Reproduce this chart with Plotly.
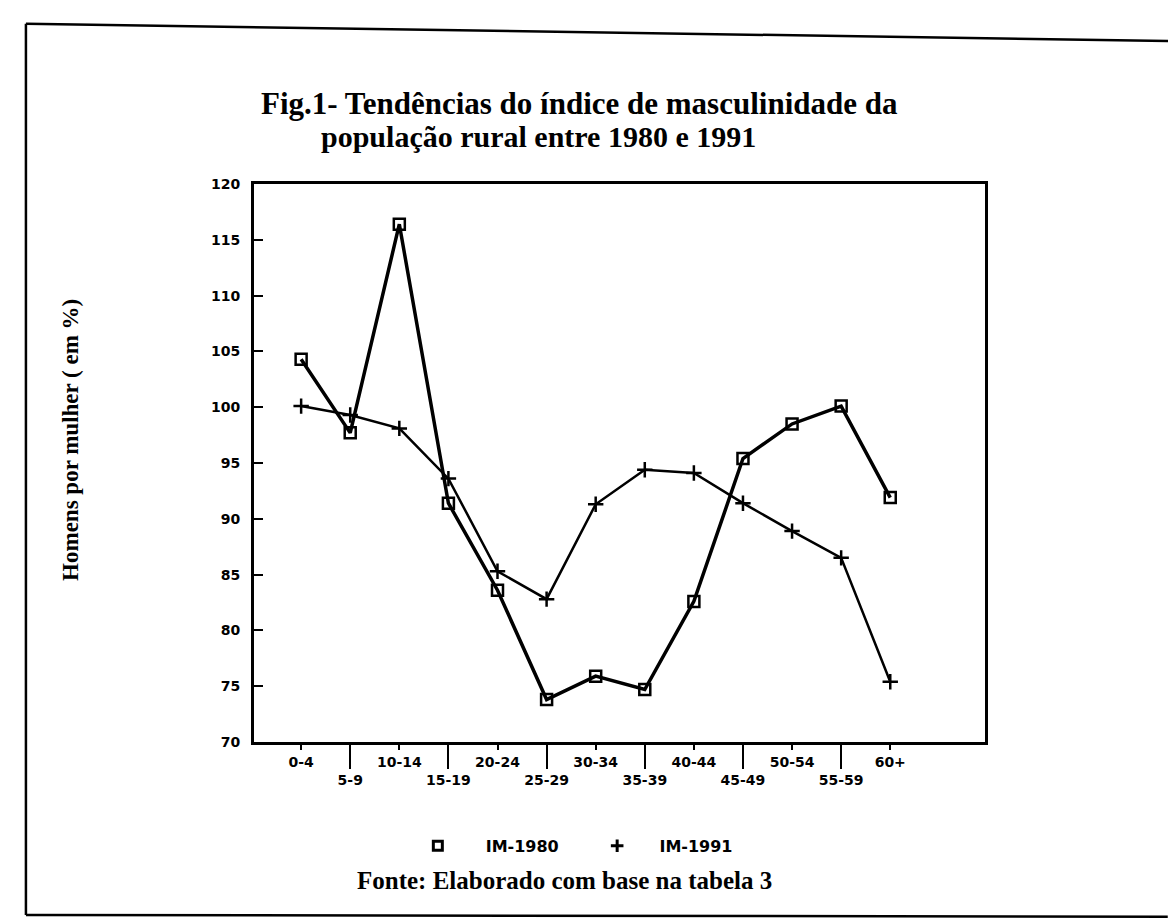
import plotly.graph_objects as go

age_groups = ['0-4', '5-9', '10-14', '15-19', '20-24', '25-29', '30-34',
              '35-39', '40-44', '45-49', '50-54', '55-59', '60+']
im_1980 = [104.3, 97.7, 116.4, 91.4, 83.6, 73.8, 75.9, 74.7, 82.6, 95.4, 98.5, 100.1, 91.9]
im_1991 = [100.1, 99.3, 98.1, 93.6, 85.3, 82.8, 91.3, 94.4, 94.1, 91.4, 88.9, 86.5, 75.4]
y_ticks = [70, 75, 80, 85, 90, 95, 100, 105, 110, 115, 120]

# even groups on the upper row, odd ones dropped to the second row
tick_text = [g if i % 2 == 0 else '<br>' + g for i, g in enumerate(age_groups)]
long_ticks = age_groups[1::2]

serif = 'Liberation Serif'
sans = 'DejaVu Sans'
nb = '\u00a0'

fig = go.Figure()
fig.add_trace(go.Scatter(x=age_groups, y=im_1980, mode='lines+markers',
                         line=dict(color='black', width=3.5),
                         marker=dict(symbol='square-open', size=11, color='black',
                                     line=dict(width=2.5, color='black')),
                         showlegend=False))
fig.add_trace(go.Scatter(x=age_groups, y=im_1991, mode='lines+markers',
                         line=dict(color='black', width=2.5),
                         marker=dict(symbol='cross-thin-open', size=11, color='black',
                                     line=dict(width=2.5, color='black')),
                         showlegend=False))
# legend entries (markers only, like the original)
fig.add_trace(go.Scatter(x=[None], y=[None], mode='markers', name=nb * 5 + 'IM-1980' + nb * 6,
                         marker=dict(symbol='square-open', size=9, color='black',
                                     line=dict(width=3, color='black'))))
fig.add_trace(go.Scatter(x=[None], y=[None], mode='markers', name=nb * 4 + 'IM-1991',
                         marker=dict(symbol='cross-thin-open', size=9, color='black',
                                     line=dict(width=3, color='black'))))
# carrier for the long separator ticks
fig.add_trace(go.Scatter(x=age_groups, y=[None] * len(age_groups), xaxis='x2',
                         mode='markers', showlegend=False, hoverinfo='skip'))

xrange = [-0.96, 13.93]

fig.update_layout(
    width=1176, height=919,
    margin=dict(l=246, r=199, t=176, b=185),
    paper_bgcolor='white', plot_bgcolor='white',
    showlegend=True,
    legend=dict(orientation='h', x=0.443, xanchor='center', y=-0.186, yanchor='middle',
                font=dict(family=sans, size=16, color='black', weight='bold'),
                bgcolor='rgba(0,0,0,0)'),
    xaxis=dict(type='category', categoryorder='array', categoryarray=age_groups,
               range=xrange, tickmode='array', tickvals=age_groups, ticktext=tick_text,
               ticks='outside', ticklen=5, tickwidth=2, tickcolor='black',
               tickfont=dict(family=sans, size=14, color='black', weight='bold'),
               showline=True, linewidth=3, linecolor='black', mirror=True,
               showgrid=False, zeroline=False),
    xaxis2=dict(type='category', categoryorder='array', categoryarray=age_groups,
                range=xrange, overlaying='x', anchor='y', side='bottom',
                tickmode='array', tickvals=long_ticks, showticklabels=False,
                ticks='outside', ticklen=26, tickwidth=2, tickcolor='black',
                showline=False, showgrid=False, zeroline=False),
    yaxis=dict(range=[70, 120], tickmode='array', tickvals=y_ticks,
               ticks='inside', ticklen=9, tickwidth=2, tickcolor='black',
               ticklabelstandoff=8,
               tickfont=dict(family=sans, size=14, color='black', weight='bold'),
               showline=True, linewidth=3, linecolor='black', mirror=True,
               showgrid=False, zeroline=False),
)

# titles and notes
fig.add_annotation(text='Fig.1- Tendências do índice de masculinidade da',
                   xref='paper', yref='paper', x=0.445, y=1.145,
                   xanchor='center', yanchor='middle', showarrow=False,
                   font=dict(family=serif, size=31, color='black', weight='bold'))
fig.add_annotation(text='população rural entre 1980 e 1991',
                   xref='paper', yref='paper', x=0.389, y=1.086,
                   xanchor='center', yanchor='middle', showarrow=False,
                   font=dict(family=serif, size=30, color='black', weight='bold'))
fig.add_annotation(text='Homens por mulher ( em %)', textangle=-90,
                   xref='paper', yref='paper', x=-0.252, y=0.541,
                   xanchor='center', yanchor='middle', showarrow=False,
                   font=dict(family=serif, size=23, color='black', weight='bold'))
fig.add_annotation(text='Fonte: Elaborado com base na tabela 3',
                   xref='paper', yref='paper', x=0.425, y=-0.248,
                   xanchor='center', yanchor='middle', showarrow=False,
                   font=dict(family=serif, size=25, color='black', weight='bold'))

# outer frame of the page
frame = dict(type='line', xref='paper', yref='paper', line=dict(color='black', width=2.5))
fig.add_shape(x0=-0.312, y0=1.287, x1=1.272, y1=1.256, **frame)
fig.add_shape(x0=-0.312, y0=1.287, x1=-0.312, y1=-0.31, **frame)
fig.add_shape(x0=-0.312, y0=-0.31, x1=1.25, y1=-0.313, **frame)

fig.write_html('out.html')
